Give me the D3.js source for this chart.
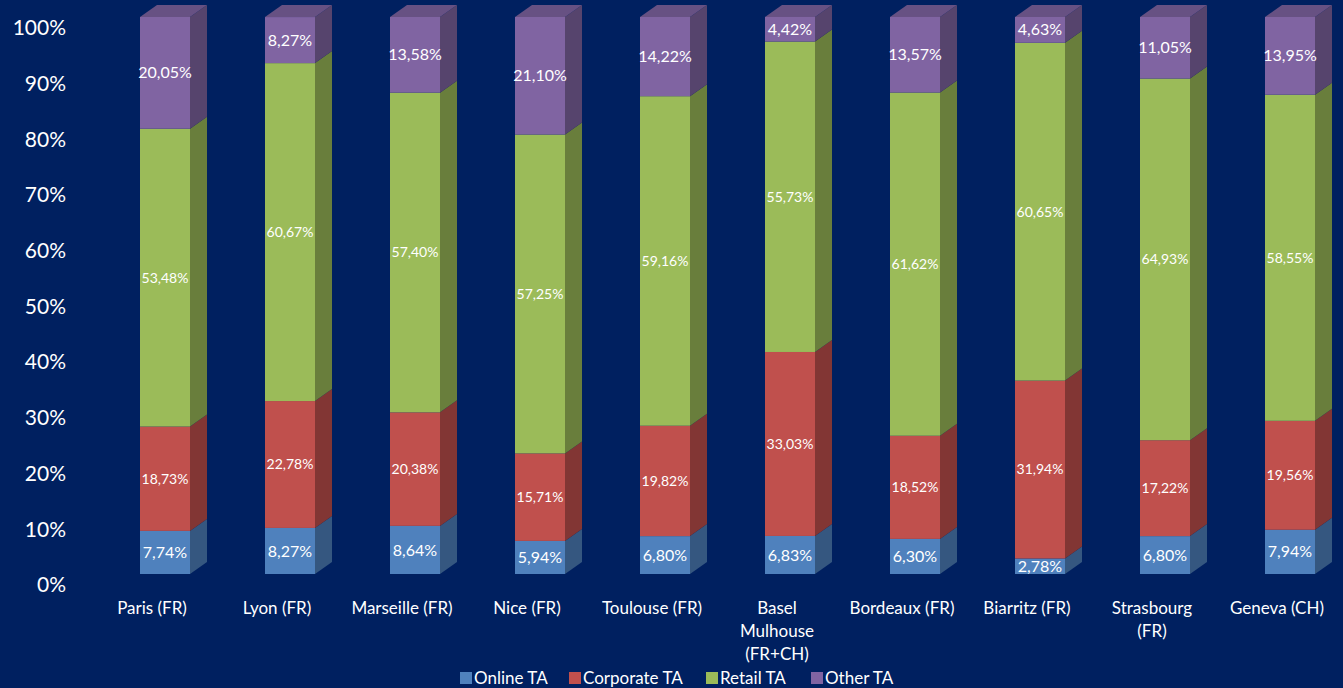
<!DOCTYPE html>
<html>
<head>
<meta charset="utf-8">
<script src="https://cdn.jsdelivr.net/npm/d3@7"></script>
<style>
  html, body { margin: 0; padding: 0; background: #002060; }
  svg { display: block; }
</style>
</head>
<body>
<div id="chart"></div>
<script>
// airports and their label lines
const cities = ["Paris (FR)", "Lyon (FR)", "Marseille (FR)", "Nice (FR)", "Toulouse (FR)",
    "Basel Mulhouse (FR+CH)", "Bordeaux (FR)", "Biarritz (FR)", "Strasbourg (FR)", "Geneva (CH)"];
const cityLines = [["Paris (FR)"], ["Lyon (FR)"], ["Marseille (FR)"], ["Nice (FR)"], ["Toulouse (FR)"],
    ["Basel", "Mulhouse", "(FR+CH)"], ["Bordeaux (FR)"], ["Biarritz (FR)"], ["Strasbourg", "(FR)"], ["Geneva (CH)"]];

const seriesNames = ["Online TA", "Corporate TA", "Retail TA", "Other TA"];
const online = [7.74, 8.27, 8.64, 5.94, 6.80, 6.83, 6.30, 2.78, 6.80, 7.94];
const corporate = [18.73, 22.78, 20.38, 15.71, 19.82, 33.03, 18.52, 31.94, 17.22, 19.56];
const retail = [53.48, 60.67, 57.40, 57.25, 59.16, 55.73, 61.62, 60.65, 64.93, 58.55];
const other = [20.05, 8.27, 13.58, 21.10, 14.22, 4.42, 13.57, 4.63, 11.05, 13.95];
const yTicks = [0, 10, 20, 30, 40, 50, 60, 70, 80, 90, 100];

const colors = ["#4f81bd", "#c0504d", "#9bbb59", "#8064a2"];
const labelSizes = [16, 14, 14, 16];

const width = 1343, height = 688;
const depthX = 17, depthY = -12, barW = 50;

const fmt = (v) => v.toFixed(2).replace(".", ",") + "%";

// build rows for the stack
const table = cities.map((c, i) => ({
    city: c,
    "Online TA": online[i],
    "Corporate TA": corporate[i],
    "Retail TA": retail[i],
    "Other TA": other[i],
}));
const stacked = d3.stack().keys(seriesNames)(table);

const svg = d3.select("#chart").append("svg")
    .attr("width", width)
    .attr("height", height)
    .style("font-family", "Lato, 'Open Sans', sans-serif");

svg.append("rect").attr("width", width).attr("height", height).attr("fill", "#002060");

const x = d3.scalePoint().domain(cities).range([165, 1290]);
const y = d3.scaleLinear().domain([0, 100]).range([574, 17]);

// y axis, labels sit a little lower than the bar fronts
const yAxis = svg.append("g")
    .attr("transform", "translate(66,11)")
    .call(d3.axisLeft(y).tickValues(yTicks).tickSize(0).tickPadding(0).tickFormat((d) => d + "%"));
yAxis.select(".domain").remove();
yAxis.selectAll("text")
    .attr("fill", "#ffffff")
    .style("font-size", "21px")
    .style("font-family", "Lato, 'Open Sans', sans-serif");

// bars
const bars = svg.append("g");
stacked.forEach((layer, si) => {
    const base = d3.color(colors[si]);
    const side = base.darker(1.1);
    const top = base.darker(0.6);
    const g = bars.append("g");
    layer.forEach((d, i) => {
        const cx = x(cities[i]);
        const x0 = cx - barW / 2, x1 = cx + barW / 2;
        const yt = y(d[1]), yb = y(d[0]);
        // side face
        g.append("path")
            .attr("d", `M${x1},${yt}L${x1 + depthX},${yt + depthY}L${x1 + depthX},${yb + depthY}L${x1},${yb}Z`)
            .attr("fill", side.formatHex());
        // top face on last series
        if (si === stacked.length - 1) {
            g.append("path")
                .attr("d", `M${x0},${yt}L${x0 + depthX},${yt + depthY}L${x1 + depthX},${yt + depthY}L${x1},${yt}Z`)
                .attr("fill", top.formatHex());
        }
        g.append("rect")
            .attr("x", x0).attr("y", yt)
            .attr("width", barW).attr("height", yb - yt)
            .attr("fill", colors[si]);
        g.append("text")
            .attr("x", cx)
            .attr("y", (yt + yb) / 2)
            .attr("dy", "0.35em")
            .attr("text-anchor", "middle")
            .attr("fill", "#ffffff")
            .style("font-size", labelSizes[si] + "px")
            .text(fmt(d.data[seriesNames[si]]));
    });
});

// category labels (set a bit left of the bar fronts)
const xLabels = svg.append("g");
cities.forEach((c, i) => {
    const lx = x(c) - 13;
    const t = xLabels.append("text")
        .attr("x", lx)
        .attr("y", 614)
        .attr("text-anchor", "middle")
        .attr("fill", "#ffffff")
        .style("font-size", "17px");
    cityLines[i].forEach((line, li) => {
        t.append("tspan").attr("x", lx).attr("dy", li === 0 ? 0 : 23).text(line);
    });
});

// legend
const legendX = [460, 569, 706, 811];
const legend = svg.append("g");
seriesNames.forEach((s, i) => {
    legend.append("rect")
        .attr("x", legendX[i]).attr("y", 672)
        .attr("width", 12).attr("height", 12)
        .attr("fill", colors[i]);
    legend.append("text")
        .attr("x", legendX[i] + 14).attr("y", 684)
        .attr("fill", "#ffffff")
        .style("font-size", "17px")
        .text(s);
});
</script>
</body>
</html>
